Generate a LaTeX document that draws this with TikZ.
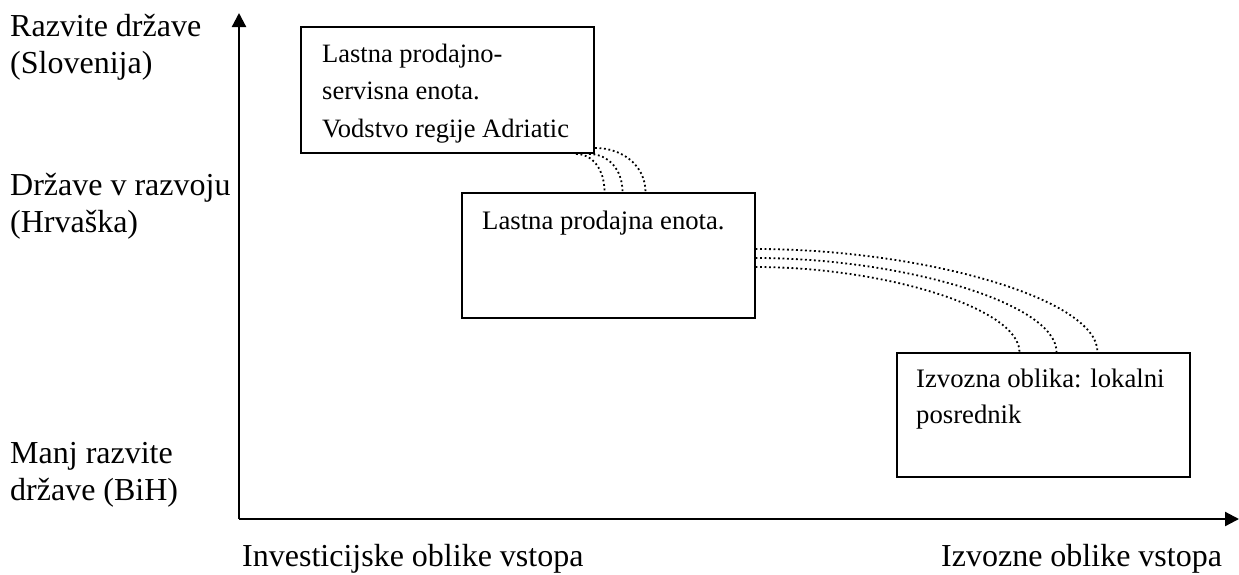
\documentclass[tikz,border=0pt]{standalone}
\usepackage{fontspec}
\setmainfont{Liberation Serif}
\usetikzlibrary{arrows.meta,calc}

\begin{document}
\begin{tikzpicture}[x=1pt,y=-1pt,
  axisline/.style={line width=2.2pt,-{Triangle[length=14pt,width=14pt]}},
  stagebox/.style={draw,line width=2pt,minimum width=293pt,minimum height=125pt,inner sep=0pt},
  boxtext/.style={anchor=base west,inner sep=0pt,align=left},
  sidetext/.style={anchor=base west,inner sep=0pt,font=\fontsize{32}{37}\selectfont,align=left},
  foottext/.style={anchor=base west,inner sep=0pt,font=\fontsize{32}{37}\selectfont},
  dotline/.style={line width=1.8pt,dash pattern=on 1.8pt off 2.7pt}]

\useasboundingbox (0,0) rectangle (1239,574);

% axes
\coordinate (origin) at (239,519);
\coordinate (ytop) at (239,13);
\coordinate (xend) at (1239,519);
\draw[axisline] (origin) -- (ytop);
\draw[axisline] (origin) -- (xend);

% level labels (anchored at the baseline of the last line)
\node[sidetext] (lvl1) at (10,73) {Razvite države\\(Slovenija)};
\node[sidetext] (lvl2) at (10,232) {Države v razvoju\\(Hrvaška)};
\node[sidetext] (lvl3) at (10,500) {Manj razvite\\države (BiH)};

% entry mode labels
\node[foottext] (modeinv) at (242,566) {Investicijske oblike vstopa};
\node[foottext] (modeexp) at (941,566) {Izvozne oblike vstopa};

% stage boxes
\node[stagebox,minimum height=126pt] (box1) at (447.5,90) {};
\node[stagebox] (box2) at (608,255.5) {};
\node[stagebox,minimum height=124pt] (box3) at (1043,415) {};

\node[boxtext,font=\fontsize{26.5}{37.5}\selectfont] (t1) at (322,137) {Lastna prodajno-\\servisna enota.\\Vodstvo regije Adriatic};
\node[boxtext,font=\fontsize{26.7}{36}\selectfont] (t2) at (482,229) {Lastna prodajna enota.};
\node[boxtext,font=\fontsize{26.7}{36}\selectfont] (t3) at (916,423) {Izvozna oblika: lokalni\\posrednik};

% dotted links box1 -> box2
\coordinate (a1) at ($(box1.south east)+(-19,0)$);
\coordinate (a2) at ($(box1.south east)+(-6,0)$);
\coordinate (a3) at ($(box1.south east)+(0,-6)$);
\coordinate (b1) at ($(box2.north west)+(144,0)$);
\coordinate (b2) at ($(box2.north west)+(162,0)$);
\coordinate (b3) at ($(box2.north west)+(185,0)$);
\draw[dotline] (a1) .. controls +(16.6,0) and +(0,-22.6) .. (b1);
\draw[dotline] (a2) .. controls +(19.3,0) and +(0,-22.6) .. (b2);
\draw[dotline] (a3) .. controls +(28.7,0) and +(0,-25.4) .. (b3);

% dotted links box2 -> box3
\coordinate (c1) at ($(box2.north east)+(0,57)$);
\coordinate (c2) at ($(box2.north east)+(0,66)$);
\coordinate (c3) at ($(box2.north east)+(0,75)$);
\coordinate (d1) at ($(box3.north west)+(202,0)$);
\coordinate (d2) at ($(box3.north west)+(161,0)$);
\coordinate (d3) at ($(box3.north west)+(124,0)$);
\draw[dotline] (c1) .. controls +(165,0) and +(0,-54) .. (d1);
\draw[dotline] (c2) .. controls +(146,0) and +(0,-49) .. (d2);
\draw[dotline] (c3) .. controls +(128,0) and +(0,-44) .. (d3);

\end{tikzpicture}
\end{document}
